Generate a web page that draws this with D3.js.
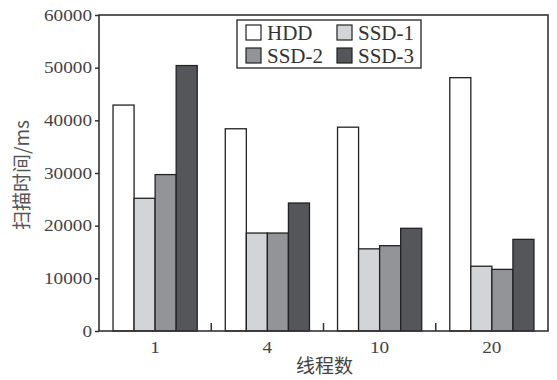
<!DOCTYPE html>
<html><head><meta charset="utf-8">
<script src="https://cdn.jsdelivr.net/npm/d3@7/dist/d3.min.js"></script>
<style>
html,body{margin:0;padding:0;background:#fff;}
svg{display:block;}
</style></head>
<body>
<svg id="chart" width="557" height="380"></svg>
<script>
const categories = ["1", "4", "10", "20"];
const seriesNames = ["HDD", "SSD-1", "SSD-2", "SSD-3"];
const hdd  = [42900, 38400, 38700, 48100];
const ssd1 = [25200, 18600, 15600, 12300];
const ssd2 = [29700, 18600, 16200, 11700];
const ssd3 = [50400, 24300, 19500, 17400];
const yTicks = [0, 10000, 20000, 30000, 40000, 50000, 60000];
const xLabel = "线程数";
const yLabel = "扫描时间/ms";

const seriesValues = [hdd, ssd1, ssd2, ssd3];
const colors = ["#ffffff", "#d3d4d6", "#939498", "#55565a"];

const svg = d3.select("#chart");
const m = {left: 99, top: 15, right: 548, bottom: 331};

const x0 = d3.scaleBand().domain(categories).range([m.left, m.right]).paddingInner(0.25).paddingOuter(0.125);
const x1 = d3.scaleBand().domain(seriesNames).range([0, x0.bandwidth()]);
const y = d3.scaleLinear().domain([0, 60000]).range([m.bottom, m.top]);
const xb = d3.scaleBand().domain(categories).range([m.left, m.right]);

function stretch(sel, f) {
  sel.each(function() {
    const w = this.getComputedTextLength();
    d3.select(this).attr("textLength", w * f).attr("lengthAdjust", "spacingAndGlyphs");
  });
}

// bars
const g = svg.append("g");
categories.forEach((c, ci) => {
  seriesNames.forEach((s, si) => {
    const v = seriesValues[si][ci];
    g.append("rect")
      .attr("x", x0(c) + x1(s))
      .attr("y", y(v))
      .attr("width", x1.bandwidth())
      .attr("height", y(0) - y(v))
      .attr("fill", colors[si])
      .attr("stroke", "#222")
      .attr("stroke-width", 1.3);
  });
});

// frame
svg.append("rect")
  .attr("x", m.left).attr("y", m.top)
  .attr("width", m.right - m.left).attr("height", m.bottom - m.top)
  .attr("fill", "none").attr("stroke", "#333").attr("stroke-width", 1.6);

// y axis
const yAxis = svg.append("g").attr("transform", `translate(${m.left},0)`)
  .call(d3.axisLeft(y).tickValues(yTicks).tickFormat(d3.format("d")).tickSize(4).tickPadding(3));
yAxis.select(".domain").remove();
yAxis.selectAll("line").attr("stroke", "#333").attr("stroke-width", 1.5);
yAxis.selectAll("text").attr("font-family", "Liberation Serif").attr("font-size", 16).attr("fill", "#444");
stretch(yAxis.selectAll("text"), 1.2);

// x boundary ticks (inside, pointing up)
const bounds = categories.slice(1).map(c => xb(c));
svg.append("g").selectAll("line").data(bounds).join("line")
  .attr("x1", d => d).attr("x2", d => d)
  .attr("y1", m.bottom).attr("y2", m.bottom - 8)
  .attr("stroke", "#333").attr("stroke-width", 1.5);

// x labels
const xl = svg.append("g").selectAll("text").data(categories).join("text")
  .attr("x", d => x0(d) + x0.bandwidth() / 2)
  .attr("y", 353)
  .attr("text-anchor", "middle")
  .attr("font-family", "Liberation Serif").attr("font-size", 16).attr("fill", "#444")
  .text(d => d);
stretch(xl, 1.2);

// axis titles
svg.append("text")
  .attr("x", (m.left + m.right) / 2 + 1).attr("y", 373)
  .attr("text-anchor", "middle")
  .attr("font-family", "Noto Sans CJK SC").attr("font-size", 19).attr("fill", "#444")
  .text(xLabel);
svg.append("text")
  .attr("transform", `translate(29,${(m.top + m.bottom) / 2 + 2}) rotate(-90)`)
  .attr("text-anchor", "middle")
  .attr("font-family", "Noto Sans CJK SC").attr("font-size", 19).attr("fill", "#555")
  .text(yLabel);

// legend
const lg = svg.append("g");
lg.append("rect").attr("x", 237).attr("y", 20).attr("width", 184).attr("height", 48)
  .attr("fill", "#fff").attr("stroke", "#222").attr("stroke-width", 1.3);
const pos = [[246, 25], [337, 25], [246, 48], [337, 48]];
seriesNames.forEach((s, i) => {
  lg.append("rect").attr("x", pos[i][0]).attr("y", pos[i][1]).attr("width", 15).attr("height", 15)
    .attr("fill", colors[i]).attr("stroke", "#222").attr("stroke-width", 1.2);
  lg.append("text").attr("x", pos[i][0] + 21).attr("y", pos[i][1] + 15)
    .attr("font-family", "Liberation Serif").attr("font-size", 21).attr("fill", "#333")
    .text(s);
});
</script>
</body></html>
